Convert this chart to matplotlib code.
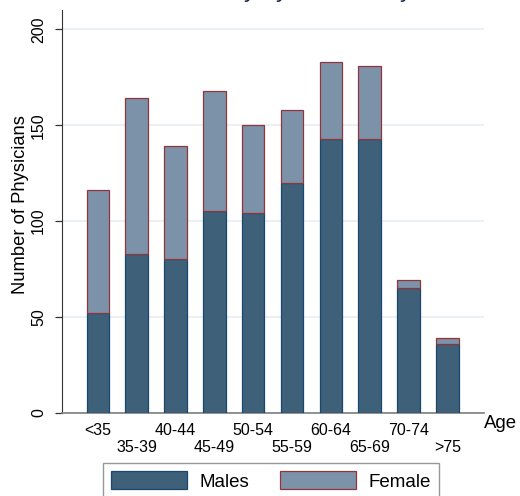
import numpy as np
import matplotlib
matplotlib.use("Agg")
import matplotlib.pyplot as plt
from matplotlib.patches import Patch

plt.rcParams["font.family"] = ["Liberation Sans", "DejaVu Sans"]

# data
age_groups = ["<35", "35-39", "40-44", "45-49", "50-54",
              "55-59", "60-64", "65-69", "70-74", ">75"]
males = [52, 83, 80, 105, 104, 120, 143, 143, 65, 36]
females = [64, 81, 59, 63, 46, 38, 40, 38, 4, 3]

male_color = "#3e6079"
male_edge = "#1a476f"
female_color = "#7b92a8"
female_edge = "#90353b"

fig = plt.figure(figsize=(5.2, 4.96), dpi=100)
ax = fig.add_axes([62 / 520, 83.3 / 496, 422 / 520, 402.7 / 496])

x = np.arange(len(age_groups))
width = 0.58
ax.bar(x, males, width, color=male_color, edgecolor=male_edge, linewidth=0.9, zorder=3)
ax.bar(x, females, width, bottom=males, color=female_color,
       edgecolor=female_edge, linewidth=0.9, zorder=3)

ax.set_xlim(-0.921, 9.94)
ax.set_ylim(0, 210.1)

# axes styling
for side in ["top", "right"]:
    ax.spines[side].set_visible(False)
ax.spines["left"].set_color("#333333")
ax.spines["bottom"].set_color("#7f7f7f")
ax.spines["bottom"].set_linewidth(1.2)

ax.set_yticks([0, 50, 100, 150, 200])
ax.set_yticklabels(["0", "50", "100", "150", "200"], rotation=90, va="center")
ax.tick_params(axis="y", length=5, width=0.9, color="#333333", pad=6.5, labelsize=11.5)
ax.yaxis.grid(True, color="#eaf0f3", linewidth=1.5, zorder=0)
ax.set_axisbelow(True)

ax.set_xticks(x)
ax.set_xticklabels(age_groups)
ax.tick_params(axis="x", length=0, labelsize=11.5)
for i, tick in enumerate(ax.xaxis.get_major_ticks()):
    tick.set_pad(7.5 + (i % 2) * 12.4)

ax.set_ylabel("Number of Physicians", fontsize=13.2)
ax.yaxis.set_label_coords(-0.078, 0.516)

ax.text(1.0, -0.038, "Age", transform=ax.transAxes, ha="left",
        va="baseline", fontsize=13.4)

# title: only its descenders fall inside the picture, as in the reference
fig.text(89.4 / 520, 1 + 3.5 / 496, "Medical Faculty by Gender, by Year",
         ha="left", va="baseline", fontsize=17.3, color="#1c2f4f")

handles = [
    Patch(facecolor=male_color, edgecolor=male_edge, linewidth=0.9, label="Males"),
    Patch(facecolor=female_color, edgecolor=female_edge, linewidth=0.9, label="Female"),
]
leg = fig.legend(handles=handles, loc="upper left", bbox_to_anchor=(103 / 520, 1 - 463 / 496),
                 ncol=2, fontsize=13.5, handlelength=4.05, handleheight=1.05,
                 handletextpad=0.64, columnspacing=1.66, borderpad=0.45,
                 fancybox=False, borderaxespad=0)
leg.get_frame().set_edgecolor("#7f7f7f")
leg.get_frame().set_linewidth(1.0)

fig.savefig("out.png", dpi=100)
